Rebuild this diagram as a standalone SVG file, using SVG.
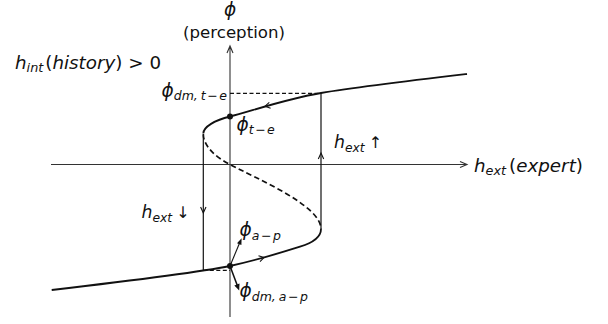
<svg xmlns="http://www.w3.org/2000/svg" width="608" height="324" viewBox="0 0 608 324">
<style>
.t{font-family:"DejaVu Sans","Liberation Sans",sans-serif;fill:#111}
.i{font-style:oblique}
.ax{stroke:#333;stroke-width:1.1;fill:none}
.cv{stroke:#111;stroke-width:1.8;fill:none}
.ds{stroke:#111;stroke-width:1.7;fill:none;stroke-dasharray:5.5,3.2}
.dh{stroke:#111;stroke-width:1.2;fill:none;stroke-dasharray:4,2.5}
.vl{stroke:#111;stroke-width:1.2;fill:none}
.ah{stroke:#111;stroke-width:1.1;fill:none}
</style>
<rect width="608" height="324" fill="#fff"/>
<g id="connectors">
  <path class="ax" d="M230,317 V46 M227,53 L230,46 L233,53"/>
  <path class="ax" d="M51,164.5 H467 M460,161.5 L467,164.5 L460,167.5"/>
  <path id="upper" class="cv" d="M203.3,133.5 C203.3,127 215,120 230,116.5 C248,112.3 285,99 321,93 C360,86.5 420,79.5 467,74"/>
  <path id="middle" class="ds" d="M203.3,134 C203.3,146 216,157.5 230,164.5 C255,178 321,205 321,229"/>
  <path id="lower" class="cv" d="M321,229 C321,237 312,243 300,246.7 C288,250.5 255,260.5 230,266 C200,272 120,282 51.7,290"/>
  <path class="ah" d="M270.6,108.3 L265,106.2 L269.3,102.4"/>
  <path class="ah" d="M258.5,255.8 L264,257.6 L260,261.6"/>
  <path class="vl" d="M203.3,135 V270"/>
  <path class="ah" d="M200.6,207 L203.3,213 L206,207"/>
  <path class="vl" d="M321,93 V229"/>
  <path class="ah" d="M318.3,159 L321,153 L323.7,159"/>
  <path class="dh" d="M230,93.3 H321"/>
  <path class="dh" d="M203.3,270.3 H230"/>
  <path stroke="#111" stroke-width="1.1" d="M230,266 L240.3,241.3"/>
  <path fill="#111" d="M241.6,238.3 L241.4,245 L237,243.2 Z"/>
  <path stroke="#111" stroke-width="1.5" d="M230,266 L237.6,286.3"/>
  <path fill="#111" d="M239.2,290.5 L234.3,285.4 L239.5,283.4 Z"/>
</g>
<g id="points">
  <circle cx="230" cy="116.5" r="3" fill="#111"/>
  <circle cx="230" cy="266" r="3" fill="#111"/>
</g>
<g id="labels">
  <text class="t i" x="230" y="15.5" font-size="18.5" text-anchor="middle">ϕ</text>
  <text class="t" x="234" y="37.5" font-size="16.6" text-anchor="middle">(perception)</text>
  <text class="t" x="15" y="68.5" font-size="18.3"><tspan class="i">h</tspan><tspan class="i" font-size="12.8" dy="3.5">int</tspan><tspan dy="-3.5" dx="2">(</tspan><tspan class="i">history</tspan>) &gt; 0</text>
  <text class="t" x="474" y="171.5" font-size="18.3"><tspan class="i">h</tspan><tspan class="i" font-size="12.8" dy="3.5">ext</tspan><tspan dy="-3.5" dx="3">(</tspan><tspan class="i">expert</tspan>)</text>
  <text class="t" x="334" y="148" font-size="17.3"><tspan class="i">h</tspan><tspan class="i" font-size="12.3" dy="3.5">ext</tspan><tspan dy="-3.5" dx="4" font-size="16">↑</tspan></text>
  <text class="t" x="141.5" y="218" font-size="17.3"><tspan class="i">h</tspan><tspan class="i" font-size="12.3" dy="3.5">ext</tspan><tspan dy="-3.5" dx="4" font-size="16">↓</tspan></text>
  <text class="t" x="161.5" y="96.5" font-size="18.5"><tspan class="i">ϕ</tspan><tspan class="i" font-size="12.5" dy="3.5">dm,</tspan><tspan class="i" font-size="12.5" dx="3">t</tspan><tspan font-size="12.5" dx="1.5">−</tspan><tspan class="i" font-size="12.5" dx="1.5">e</tspan></text>
  <text class="t" x="236.5" y="130.5" font-size="18.5"><tspan class="i">ϕ</tspan><tspan class="i" font-size="12.5" dy="3.5">t</tspan><tspan font-size="12.5" dx="1.5">−</tspan><tspan class="i" font-size="12.5" dx="1.5">e</tspan></text>
  <text class="t" x="239.5" y="236" font-size="18.5"><tspan class="i">ϕ</tspan><tspan class="i" font-size="12.5" dy="3.5">a</tspan><tspan font-size="12.5" dx="1.5">−</tspan><tspan class="i" font-size="12.5" dx="1.5">p</tspan></text>
  <text class="t" x="239.5" y="297" font-size="18.5"><tspan class="i">ϕ</tspan><tspan class="i" font-size="12.5" dy="3.5">dm,</tspan><tspan class="i" font-size="12.5" dx="3">a</tspan><tspan font-size="12.5" dx="1.5">−</tspan><tspan class="i" font-size="12.5" dx="1.5">p</tspan></text>
</g>
</svg>
